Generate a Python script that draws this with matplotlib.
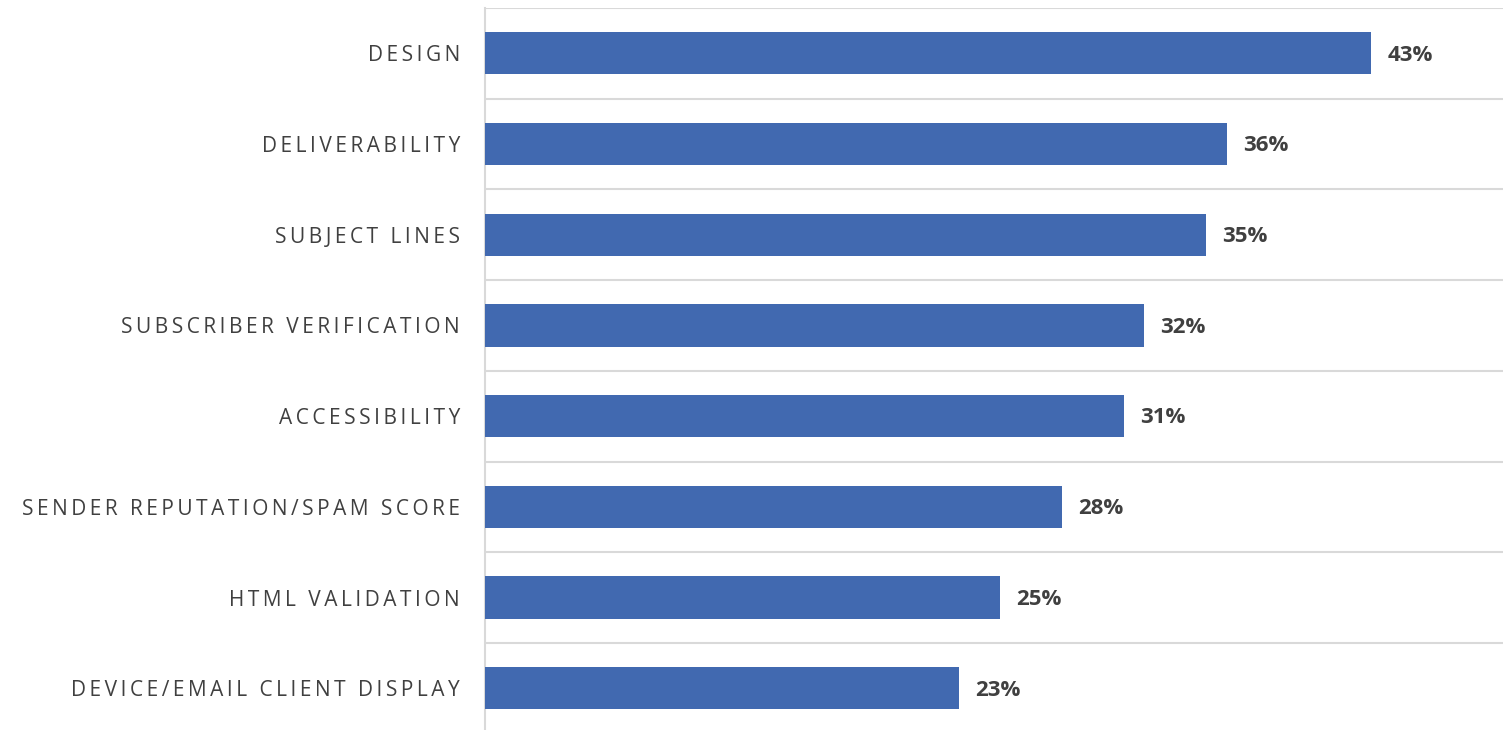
import matplotlib.pyplot as plt
import numpy as np

# data
categories = ['DESIGN', 'DELIVERABILITY', 'SUBJECT LINES', 'SUBSCRIBER VERIFICATION',
              'ACCESSIBILITY', 'SENDER REPUTATION/SPAM SCORE', 'HTML VALIDATION',
              'DEVICE/EMAIL CLIENT DISPLAY']
values = [43, 36, 35, 32, 31, 28, 25, 23]

plt.rcParams['font.family'] = ['Open Sans', 'DejaVu Sans']

BAR_COLOR = '#4169b0'
TEXT_COLOR = '#404040'
GRID_COLOR = '#d9d9d9'


def spaced(s):
    # fake letter spacing with thin spaces
    return '\u2009'.join(s)


fig = plt.figure(figsize=(15.03, 7.30), dpi=100)
# band height ~90.7px, top at y=8px, last band runs slightly past the bottom edge
ax = fig.add_axes([485 / 1503, 1 - (8 + 8 * 90.7) / 730, 1 - 485 / 1503, 8 * 90.7 / 730])

y = np.arange(len(categories))
ax.barh(y, values, height=0.465, color=BAR_COLOR, zorder=3)
ax.set_ylim(len(categories) - 0.5, -0.5)
ax.set_xlim(0, 49.4)

for yi, v in zip(y, values):
    ax.text(v + 0.78, yi + 0.02, f'{v}%', va='center', ha='left', fontsize=16,
            fontweight='bold', color=TEXT_COLOR)

ax.set_yticks(y)
ax.set_yticklabels([spaced(c) for c in categories], fontsize=15, color=TEXT_COLOR)
ax.tick_params(axis='y', length=0, pad=18)
ax.set_xticks([])

ax.set_yticks(np.arange(-0.5, len(categories), 1), minor=True)
ax.tick_params(axis='y', which='minor', length=0)
ax.grid(axis='y', which='minor', color=GRID_COLOR, linewidth=1.5, zorder=0)
ax.grid(axis='y', which='major', visible=False)

for side in ['top', 'right', 'bottom']:
    ax.spines[side].set_visible(False)
ax.spines['left'].set_color(GRID_COLOR)
ax.spines['left'].set_linewidth(1.5)

fig.savefig('out.png', dpi=100)
